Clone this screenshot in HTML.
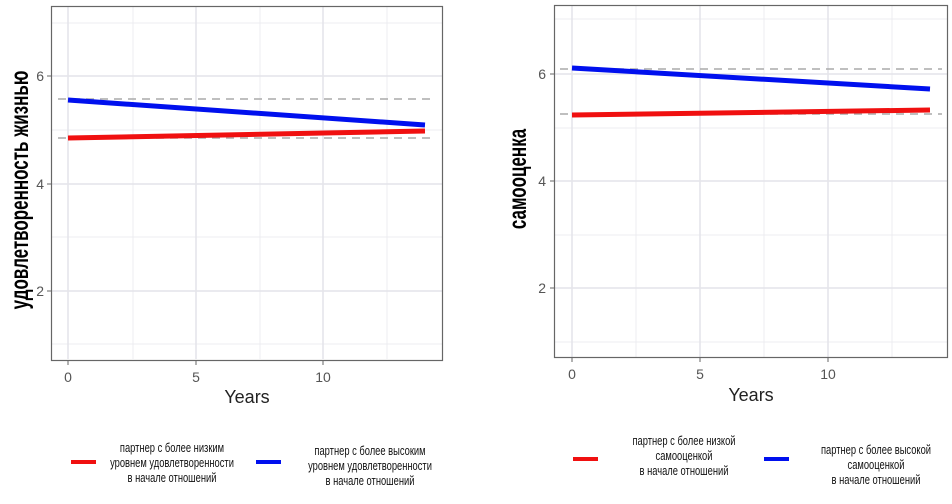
<!DOCTYPE html>
<html><head><meta charset="utf-8"><style>
html,body{margin:0;padding:0;background:#fff;}
svg{display:block;font-family:"Liberation Sans","DejaVu Sans",sans-serif;}
.t{fill:#555;font-size:14px;}
.yl{font-size:25px;fill:#000;font-weight:bold;}
.lg{font-size:13px;fill:#111;}
</style></head><body>
<svg width="952" height="504" viewBox="0 0 952 504">
<!-- LEFT PANEL -->
<g stroke="#ececf0" stroke-width="1">
<line x1="52" x2="442" y1="23" y2="23"/><line x1="52" x2="442" y1="130" y2="130"/>
<line x1="52" x2="442" y1="237" y2="237"/><line x1="52" x2="442" y1="344" y2="344"/>
<line x1="133" x2="133" y1="7" y2="359"/><line x1="260" x2="260" y1="7" y2="359"/><line x1="387" x2="387" y1="7" y2="359"/>
</g>
<g stroke="#e4e4ea" stroke-width="1.5">
<line x1="52" x2="442" y1="76" y2="76"/><line x1="52" x2="442" y1="184" y2="184"/><line x1="52" x2="442" y1="291" y2="291"/>
<line x1="68" x2="68" y1="7" y2="359"/><line x1="196" x2="196" y1="7" y2="359"/><line x1="323" x2="323" y1="7" y2="359"/>
</g>
<g stroke="#aaa" stroke-width="1.5" stroke-dasharray="8,6">
<line x1="58" x2="436" y1="99" y2="99"/><line x1="58" x2="436" y1="138" y2="138"/>
</g>
<line x1="68" y1="100" x2="425" y2="125" stroke="#0010ee" stroke-width="5"/>
<line x1="68" y1="138" x2="425" y2="131" stroke="#f01010" stroke-width="5"/>
<rect x="51.5" y="6.5" width="391" height="354" fill="none" stroke="#666" stroke-width="1.2"/>
<g stroke="#666"><line x1="47" x2="51" y1="76" y2="76"/><line x1="47" x2="51" y1="184" y2="184"/><line x1="47" x2="51" y1="291" y2="291"/>
<line x1="68" x2="68" y1="361" y2="365"/><line x1="196" x2="196" y1="361" y2="365"/><line x1="323" x2="323" y1="361" y2="365"/></g>
<text class="t" x="44" y="81" text-anchor="end">6</text><text class="t" x="44" y="189" text-anchor="end">4</text><text class="t" x="44" y="296" text-anchor="end">2</text>
<text class="t" x="68" y="382" text-anchor="middle">0</text><text class="t" x="196" y="382" text-anchor="middle">5</text><text class="t" x="323" y="382" text-anchor="middle">10</text>
<text x="247" y="403" text-anchor="middle" font-size="18" fill="#222">Years</text>
<text class="yl" transform="translate(28,190) rotate(-90) scale(0.68,1)" text-anchor="middle">удовлетворенность жизнью</text>

<!-- RIGHT PANEL -->
<g stroke="#ececf0" stroke-width="1">
<line x1="555" x2="947" y1="19" y2="19"/><line x1="555" x2="947" y1="128" y2="128"/>
<line x1="555" x2="947" y1="235" y2="235"/><line x1="555" x2="947" y1="342" y2="342"/>
<line x1="636" x2="636" y1="6" y2="357"/><line x1="764" x2="764" y1="6" y2="357"/><line x1="892" x2="892" y1="6" y2="357"/>
</g>
<g stroke="#e4e4ea" stroke-width="1.5">
<line x1="555" x2="947" y1="74" y2="74"/><line x1="555" x2="947" y1="181" y2="181"/><line x1="555" x2="947" y1="288" y2="288"/>
<line x1="572" x2="572" y1="6" y2="357"/><line x1="700" x2="700" y1="6" y2="357"/><line x1="828" x2="828" y1="6" y2="357"/>
</g>
<g stroke="#aaa" stroke-width="1.5" stroke-dasharray="8,6">
<line x1="560" x2="942" y1="69" y2="69"/><line x1="560" x2="942" y1="114" y2="114"/>
</g>
<line x1="572" y1="68" x2="930" y2="89" stroke="#0010ee" stroke-width="5"/>
<line x1="572" y1="115" x2="930" y2="110" stroke="#f01010" stroke-width="5"/>
<rect x="554.5" y="5.5" width="393" height="352" fill="none" stroke="#666" stroke-width="1.2"/>
<g stroke="#666"><line x1="550" x2="554" y1="74" y2="74"/><line x1="550" x2="554" y1="181" y2="181"/><line x1="550" x2="554" y1="288" y2="288"/>
<line x1="572" x2="572" y1="358" y2="362"/><line x1="700" x2="700" y1="358" y2="362"/><line x1="828" x2="828" y1="358" y2="362"/></g>
<text class="t" x="546" y="79" text-anchor="end">6</text><text class="t" x="546" y="186" text-anchor="end">4</text><text class="t" x="546" y="293" text-anchor="end">2</text>
<text class="t" x="572" y="379" text-anchor="middle">0</text><text class="t" x="700" y="379" text-anchor="middle">5</text><text class="t" x="828" y="379" text-anchor="middle">10</text>
<text x="751" y="401" text-anchor="middle" font-size="18" fill="#222">Years</text>
<text class="yl" transform="translate(526,179) rotate(-90) scale(0.68,1)" text-anchor="middle">самооценка</text>

<!-- LEGENDS -->
<line x1="71" x2="96" y1="462" y2="462" stroke="#f01010" stroke-width="4"/>
<line x1="256" x2="281" y1="462" y2="462" stroke="#0010ee" stroke-width="4"/>
<line x1="573" x2="598" y1="459" y2="459" stroke="#f01010" stroke-width="4"/>
<line x1="764" x2="789" y1="459" y2="459" stroke="#0010ee" stroke-width="4"/>
<g class="lg" text-anchor="middle">
<g transform="translate(172,0) scale(0.72,1)"><text x="0" y="452">партнер с более низким</text><text x="0" y="467">уровнем удовлетворенности</text><text x="0" y="482">в начале отношений</text></g>
<g transform="translate(370,0) scale(0.72,1)"><text x="0" y="455">партнер с более высоким</text><text x="0" y="470">уровнем удовлетворенности</text><text x="0" y="485">в начале отношений</text></g>
<g transform="translate(684,0) scale(0.72,1)"><text x="0" y="445">партнер с более низкой</text><text x="0" y="460">самооценкой</text><text x="0" y="475">в начале отношений</text></g>
<g transform="translate(876,0) scale(0.72,1)"><text x="0" y="454">партнер с более высокой</text><text x="0" y="469">самооценкой</text><text x="0" y="484">в начале отношений</text></g>
</g>
</svg>
</body></html>
